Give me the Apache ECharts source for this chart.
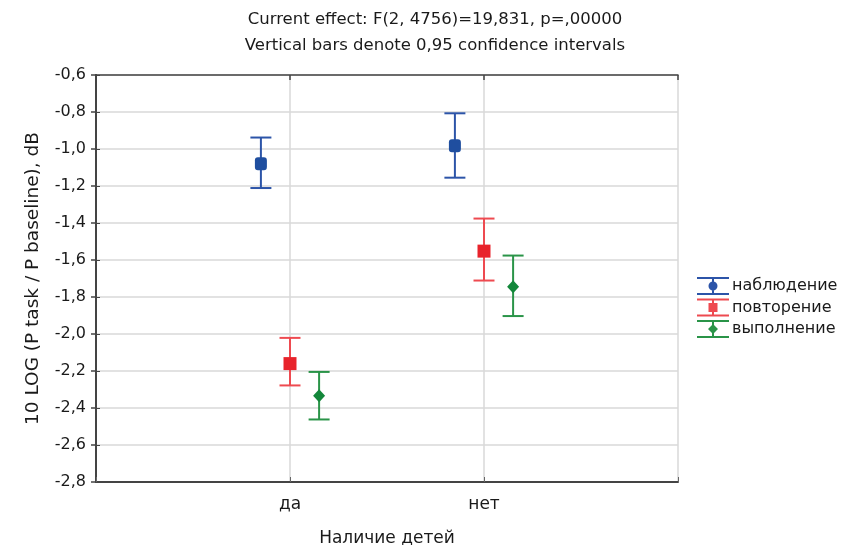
<!DOCTYPE html>
<html>
<head>
<meta charset="utf-8">
<script src="https://cdn.jsdelivr.net/npm/echarts@6/dist/echarts.min.js"></script>
<style>
  html, body { margin: 0; padding: 0; background: #fff; }
</style>
</head>
<body>
<div id="chart" style="width: 845px; height: 545px;"></div>
<script>
  const categories = ['да', 'нет']
  const seriesNames = ['наблюдение', 'повторение', 'выполнение']
  const means = [
    [-1.08, -0.983],
    [-2.16, -1.552],
    [-2.334, -1.745]
  ]
  const lowers = [
    [-1.211, -1.155],
    [-2.278, -1.711],
    [-2.462, -1.903]
  ]
  const uppers = [
    [-0.938, -0.807],
    [-2.021, -1.376],
    [-2.205, -1.576]
  ]

  const markerColors = ['#1f4e9f', '#e8232b', '#13873a']
  const barColors = ['#2c54a8', '#ee4a50', '#2a9448']
  const symbols = ['roundRect', 'rect', 'diamond']
  const symbolSizes = [[12, 13], [13, 13], [12, 13]]
  const dodge = [-0.15, 0, 0.15]

  // legend icons: cap, stem, cap + marker
  const icons = [
    'path://M0,0h32v2h-32z M15,2h2v14h-2z M0,16h32v2h-32z M16,4.5a4.5,4.5 0 1,1 -0.01,0z',
    'path://M0,0h32v2h-32z M15,2h2v14h-2z M0,16h32v2h-32z M11.5,4.5h9v9h-9z',
    'path://M0,0h32v2h-32z M15,2h2v14h-2z M0,16h32v2h-32z M16,4l5,5l-5,5l-5,-5z'
  ]

  const fmt = v => v.toFixed(1).replace('.', ',')
  const font = 'DejaVu Sans'

  const chart = echarts.init(document.getElementById('chart'))

  const series = []
  seriesNames.forEach((name, s) => {
    series.push({
      name: name,
      type: 'custom',
      silent: true,
      data: categories.map((c, i) => [i + 1 + dodge[s], lowers[s][i], uppers[s][i]]),
      renderItem: function (params, api) {
        const lo = api.coord([api.value(0), api.value(1)])
        const hi = api.coord([api.value(0), api.value(2)])
        const hw = 10.5
        const style = { stroke: barColors[s], lineWidth: 2 }
        return {
          type: 'group',
          children: [
            { type: 'line', shape: { x1: lo[0], y1: lo[1], x2: hi[0], y2: hi[1] }, style: style },
            { type: 'line', shape: { x1: lo[0] - hw, y1: lo[1], x2: lo[0] + hw, y2: lo[1] }, style: style },
            { type: 'line', shape: { x1: hi[0] - hw, y1: hi[1], x2: hi[0] + hw, y2: hi[1] }, style: style }
          ]
        }
      },
      z: 3
    })
    series.push({
      name: name,
      type: 'scatter',
      symbol: symbols[s],
      symbolSize: symbolSizes[s],
      itemStyle: { color: markerColors[s], opacity: 1 },
      data: categories.map((c, i) => [i + 1 + dodge[s], means[s][i]]),
      z: 4
    })
  })

  const option = {
    animation: false,
    backgroundColor: '#fff',
    title: {
      text: 'Current effect: F(2, 4756)=19,831, p=,00000\nVertical bars denote 0,95 confidence intervals',
      left: 430,
      textAlign: 'center',
      top: 2,
      textStyle: { fontFamily: font, fontSize: 16.5, fontWeight: 'normal', color: '#1a1a1a', lineHeight: 26 }
    },
    legend: {
      orient: 'vertical',
      left: 692,
      top: 272,
      itemWidth: 32,
      itemHeight: 18,
      itemGap: 3.5,
      data: seriesNames.map((n, s) => ({ name: n, icon: icons[s], itemStyle: { color: barColors[s] } })),
      textStyle: { fontFamily: font, fontSize: 16, color: '#1a1a1a', padding: [0, 0, 0, -2] }
    },
    grid: { left: 96, right: 167, top: 75, bottom: 63, outerBoundsMode: 'none' },
    xAxis: [
      {
        type: 'value',
        min: 0,
        max: 3,
        interval: 1,
        name: 'Наличие детей',
        nameLocation: 'middle',
        nameGap: 48,
        nameTextStyle: { fontFamily: font, fontSize: 17, color: '#1a1a1a' },
        axisLine: { lineStyle: { color: '#444', width: 2 } },
        axisTick: { inside: true, length: 5, lineStyle: { color: '#666', width: 1 } },
        axisLabel: {
          fontFamily: font, fontSize: 17, color: '#1a1a1a', margin: 14,
          formatter: v => categories[v - 1] || ''
        },
        splitLine: { show: true, lineStyle: { color: '#d8d8d8', width: 1.5 } }
      },
      {
        type: 'value',
        position: 'top',
        min: 0,
        max: 3,
        interval: 1,
        axisLine: { lineStyle: { color: '#444', width: 1.5 } },
        axisTick: { inside: true, length: 5, lineStyle: { color: '#444', width: 1.5 } },
        axisLabel: { show: false },
        splitLine: { show: false }
      }
    ],
    yAxis: [
      {
        type: 'value',
        min: -2.8,
        max: -0.6,
        interval: 0.2,
        name: '10 LOG (P task / P baseline), dB',
        nameLocation: 'middle',
        nameGap: 53,
        nameTextStyle: { fontFamily: font, fontSize: 18.5, color: '#1a1a1a' },
        axisLine: { show: true, lineStyle: { color: '#444', width: 2 } },
        axisTick: { show: true, inside: true, length: 4, lineStyle: { color: '#444' } },
        axisLabel: { fontFamily: font, fontSize: 16, color: '#1a1a1a', margin: 10, formatter: fmt },
        splitLine: { show: true, lineStyle: { color: '#d8d8d8', width: 1.5 } }
      },
      {
        type: 'value',
        position: 'right',
        min: -2.8,
        max: -0.6,
        interval: 0.2,
        axisLine: { show: true, lineStyle: { color: '#444', width: 2 } },
        axisTick: { show: true, inside: true, length: 5, lineStyle: { color: '#444', width: 1.5 } },
        axisLabel: { show: false },
        splitLine: { show: false }
      }
    ],
    series: series
  }

  chart.setOption(option)
</script>
</body>
</html>
